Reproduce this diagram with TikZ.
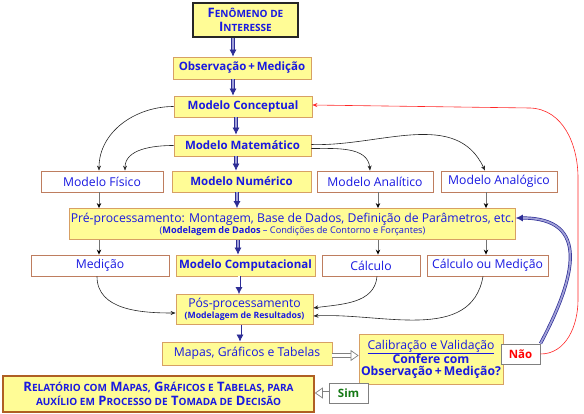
\documentclass[tikz,border=0pt]{standalone}
\usepackage{fontspec}
\setmainfont{Open Sans}
\usetikzlibrary{arrows.meta,calc}
\definecolor{yel}{RGB}{255,252,150}
\definecolor{ybord}{RGB}{215,160,100}
\definecolor{wbord}{RGB}{190,125,95}
\definecolor{tblue}{RGB}{25,25,225}
\definecolor{navyA}{RGB}{45,45,150}
\definecolor{lav}{RGB}{160,160,215}
\definecolor{relbord}{RGB}{175,95,35}
\definecolor{simgreen}{RGB}{20,120,20}
\newcommand\Lg[1]{{\fontsize{13}{16}\selectfont #1}}
\newcommand\Sm[1]{{\fontsize{10}{16}\selectfont #1}}
\tikzset{
  sz/.style 2 args={minimum width=#1pt,minimum height=#2pt},
  basebox/.style={inner sep=0pt, align=center, text=tblue, line width=0.8pt},
  ybox/.style={basebox, draw=ybord, fill=yel, font=\bfseries\fontsize{11.5}{13}\selectfont},
  ynbox/.style={basebox, draw=ybord, fill=yel, font=\fontsize{12.2}{13}\selectfont},
  wbox/.style={basebox, draw=wbord, fill=white, font=\fontsize{12.2}{13}\selectfont},
  gbox/.style={basebox, draw=gray, fill=white, line width=1pt, font=\bfseries\fontsize{11.5}{13}\selectfont},
  dbl/.style={draw=navyA, double=lav, double distance=1.8pt, line width=0.7pt, -{Latex[length=7pt,width=7pt]}},
  dblw/.style={draw=navyA, double=white, double distance=1.6pt, line width=0.7pt, -{Latex[length=7pt,width=7pt]}},
  blk/.style={draw=black!85, line width=0.6pt, -{Stealth[length=5pt,width=4pt]}},
  vln/.style={draw=black!55, line width=0.9pt, -{Stealth[length=5pt,width=4.5pt,black]}},
  hol/.style={draw=gray, double=white, double distance=3pt, line width=0.7pt, -{Triangle[length=8pt,width=11pt,fill=white]}},
}
\begin{document}
\begin{tikzpicture}[x=1pt,y=-1pt]
\useasboundingbox (0,0) rectangle (584,414);
% nodes
\node[basebox, draw=black!85, fill=yel, line width=1.6pt, sz={105}{34}, font=\bfseries\fontsize{13}{14}\selectfont] (fen) at (245.5,20) {\Lg{F}\Sm{ENÔMENO DE}\\\Lg{I}\Sm{NTERESSE}};
\node[ybox,sz={138}{22}] (obs) at (242,68) {Observação{\,}+{\,}Medição};
\node[ybox,sz={138}{21}] (conc) at (243,106.5) {Modelo Conceptual};
\node[ybox,sz={137}{21}] (mat) at (242.5,145.5) {Modelo Matemático};
\node[wbox,sz={122}{21}] (fis) at (102,181.5) {Modelo Físico};
\node[ybox,sz={139}{21}] (num) at (241.5,181.5) {Modelo Numérico};
\node[wbox,sz={116}{21}] (ana) at (375,181.5) {Modelo Analítico};
\node[wbox,sz={116}{21}] (anag) at (499,181.5) {Modelo Analógico};
\node[ynbox,sz={446}{31}] (pre) at (292.5,224) {Pré-processamento: Montagem, Base de Dados, Definição de Parâmetros, etc.\\[-2pt]{\fontsize{9.2}{10}\selectfont (\textbf{Modelagem de Dados} -- Condições de Contorno e Forçantes)}};
\node[wbox,sz={138}{21}] (med) at (100,265.5) {Medição};
\node[ybox,sz={139}{21}] (comp) at (245.5,265.5) {Modelo Computacional};
\node[wbox,sz={98}{21}] (calc) at (371,265.5) {Cálculo};
\node[wbox,sz={121}{21}] (calcm) at (487.5,265.5) {Cálculo ou Medição};
\node[ynbox,sz={137}{30}] (pos) at (244.5,309.5) {Pós-processamento\\[-2pt]{\bfseries\fontsize{8.7}{10}\selectfont (Modelagem de Resultados)}};
\node[ynbox,sz={170}{23}] (mapas) at (247,353.5) {Mapas, Gráficos e Tabelas};
\node[ynbox,sz={144}{50}] (calib) at (431,359) {\underline{Calibração e Validação}\\[-1pt]\textbf{Confere com}\\[-1pt]\textbf{Observação{\,}+{\,}Medição?}};
\node[gbox,sz={39}{20},text=red] (nao) at (520.5,354) {Não};
\node[basebox, draw=relbord, fill=yel, line width=1.6pt, sz={311}{36}, font=\bfseries\fontsize{13}{14.5}\selectfont] (rel) at (158.5,394) {\Lg{R}\Sm{ELATÓRIO COM} \Lg{M}\Sm{APAS,} \Lg{G}\Sm{RÁFICOS E} \Lg{T}\Sm{ABELAS, PARA}\\\Sm{AUXÍLIO EM} \Lg{P}\Sm{ROCESSO DE} \Lg{T}\Sm{OMADA DE} \Lg{D}\Sm{ECISÃO}};
\node[gbox,sz={39}{20},text=simgreen] (sim) at (348.5,393) {Sim};
% main chain
\draw[dbl] ([xshift=-12.5pt]fen.south) -- ([xshift=-9pt]obs.north);
\draw[dbl] ([xshift=-9pt]obs.south) -- ([xshift=-10pt]conc.north);
\draw[dbl] ([xshift=-7pt]conc.south) -- ([xshift=-6.5pt]mat.north);
\draw[dbl] ([xshift=-6.5pt]mat.south) -- ([xshift=-5.5pt]num.north);
\draw[dbl] ([xshift=-4.5pt]num.south) -- ([xshift=-55.5pt]pre.north);
\draw[dbl] ([xshift=-54.5pt]pre.south) -- ([xshift=-7.5pt]comp.north);
\draw[dblw] ([xshift=-6.5pt]comp.south) -- ([xshift=-5.5pt]pos.north);
\draw[dblw] ([xshift=-4.5pt]pos.south) -- ([xshift=-7pt]mapas.north);
% branches
\draw[blk] (conc.west) to[out=180,in=90] ([xshift=-3pt]fis.north);
\draw[blk] (mat.west) to[out=180,in=90] ([xshift=23pt]fis.north);
\draw[blk] ([yshift=-3pt]mat.east) to[out=0,in=95] ([xshift=-5pt]ana.north);
\draw[blk] ([yshift=1pt]mat.east) to[out=-2,in=115] ([xshift=-14pt]anag.north);
\draw[vln] ([xshift=-3pt]fis.south) -- ([xshift=-193.5pt]pre.north);
\draw[vln] ([xshift=3pt]ana.south) -- ([xshift=85.5pt]pre.north);
\draw[vln] ([xshift=-13pt]anag.south) -- ([xshift=193.5pt]pre.north);
\draw[vln] ([xshift=-193.5pt]pre.south) -- ([xshift=-1pt]med.north);
\draw[vln] ([xshift=85.5pt]pre.south) -- ([xshift=7pt]calc.north);
\draw[vln] ([xshift=193.5pt]pre.south) -- ([xshift=-1.5pt]calcm.north);
\draw[blk] ([xshift=-3pt]med.south) to[out=-90,in=180] ([yshift=-3.5pt]pos.west);
\draw[blk] ([xshift=6pt]calc.south) to[out=-95,in=8] ([yshift=1.5pt]pos.east);
\draw[blk] ([xshift=-4.5pt]calcm.south) to[out=-100,in=3] ([yshift=-6.5pt]pos.east);
% hollow arrows
\draw[hol] ([yshift=-2pt]mapas.east) -- ([yshift=-2pt]mapas.east -| calib.west);
\draw[hol] (sim.west) -- (sim.west -| rel.east);
% feedback
\draw[dbl] (nao.north east) to[out=62,in=0,looseness=1.5] ([yshift=6pt]pre.east);
\coordinate (r1) at (578,300);
\coordinate (r2) at (578,178);
\coordinate (r3) at (530,108);
\draw[red!85, line width=0.6pt, -{Stealth[length=5pt,width=4pt]}] (nao.east) to[out=0,in=-90] (r1) -- (r2) to[out=90,in=-2] (r3) -- ([yshift=1.5pt]conc.east);
\end{tikzpicture}
\end{document}
